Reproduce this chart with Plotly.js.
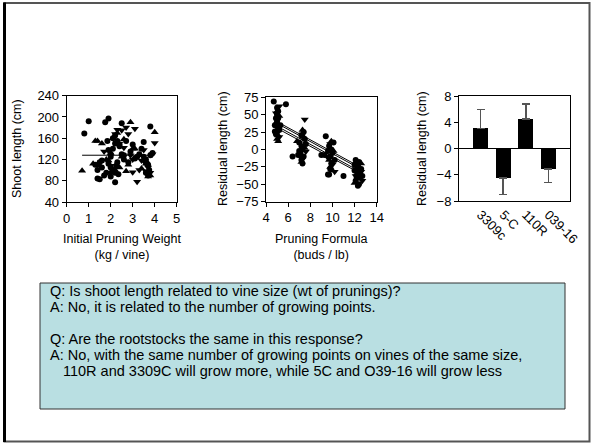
<!DOCTYPE html>
<html>
<head>
<meta charset="utf-8">
<script src="https://cdn.plot.ly/plotly-3.0.1.min.js"></script>
<style>html,body{margin:0;padding:0;background:#fff;}#chart{width:591px;height:444px;}</style>
</head>
<body>
<div id="chart"></div>
<script>
// ---- Panel 1: Shoot length vs initial pruning weight ----
const p1CircleX = [0.8,1.0,1.75,1.9,1.85,2.5,3.8,3.5,2.2,1.4,1.5,1.7,1.3,1.6,1.9,2.0,2.1,2.2,2.3,2.4,2.1,2.0,2.2,2.5,2.6,2.8,3.0,3.2,3.4,3.6,3.7,3.9,1.4,1.6,1.8,2.0,2.3,2.6,2.9,3.1,3.3,3.6,3.7,3.75,2.1,2.2,2.4,2.0,1.9,2.7,3.5,3.8,1.5,2.25,2.35];
const p1CircleY = [169,192,190,197,155,188,182,153,77,84,83,90,110,118,112,125,140,150,155,148,100,105,95,130,120,115,148,125,140,120,110,132,100,105,95,130,115,128,135,122,130,95,90,100,160,165,145,88,138,155,125,128,115,108,92];
const p1UpX = [0.7,2.9,4.0,1.4,1.6,2.0,2.3,2.6,2.8,3.1,3.3,3.6,3.7,1.2,1.5,1.9,2.2,2.5,2.7,3.0,3.4,3.8,2.1,2.4,1.8,3.6,1.3,2.0];
const p1UpY = [99,190,171,155,150,132,170,158,110,140,128,118,88,112,108,118,100,125,98,140,103,90,160,105,120,112,155,96];
const p1DownX = [3.1,2.7,4.0,3.2,2.5,2.8,3.0,3.3,3.5,3.7,3.6,2.3,2.4,2.6,2.9,3.4,3.8,3.9,2.2,2.0,1.7,3.0,3.6];
const p1DownY = [178,180,151,78,175,168,120,100,138,105,112,176,150,142,128,118,95,130,168,108,135,96,98];
const p1FitX = [0.7,3.9];
const p1FitY = [128,128];

// ---- Panel 2: Residual length vs pruning formula ----
const p2CircleX = [4.7,5.8,5.0,5.1,4.9,5.0,4.8,5.1,5.0,4.9,5.2,5.0,5.3,4.8,5.1,6.4,7.0,7.2,7.3,7.1,7.4,7.2,7.3,7.0,7.5,7.4,7.3,6.9,7.6,7.2,9.4,11.0,9.0,9.3,9.6,9.7,9.8,9.9,10.0,9.7,10.1,9.8,10.2,9.6,9.9,12.1,12.2,12.3,12.4,12.0,12.5,12.2,12.3,12.6,12.1,12.4,12.7,12.0];
const p2CircleY = [69,65,60,55,45,40,35,30,25,22,28,50,35,26,45,-10,10,5,0,-5,-10,-15,-20,-2,15,25,-12,-8,8,20,19,-38,-8,-8,-36,-36,-10,-20,-5,5,10,-28,-15,-2,0,-15,-20,-52,-50,-30,-35,-40,-25,-28,-45,-18,-38,-22];
const p2UpX = [5.0,5.1,4.9,5.2,5.0,5.1,7.3,7.4,7.2,7.5,6.8,9.8,10.0,9.7,10.1,9.9,12.3,12.5,12.2,12.6,12.0];
const p2UpY = [15,12,38,48,55,20,28,18,-18,2,12,-25,-30,-15,-2,12,-30,-42,-35,-20,-48];
const p2DownX = [7.5,5.2,4.9,5.0,5.2,7.3,7.1,7.4,7.6,9.8,10.0,9.6,10.2,12.4,12.6,12.2,12.7,12.1];
const p2DownY = [43,62,52,32,18,22,-10,5,-3,8,-22,-12,-32,-22,-32,-28,-45,-38];
const p2FitX = [5.0,12.6];
const p2Fit110R = [40,-26];
const p2Fit3309 = [37.5,-28.5];
const p2Fit039 = [33.5,-32.5];
const p2Fit5C = [30.5,-35];

// ---- Panel 3: Rootstock residuals ----
const rootstocks = ['3309c','5-C','110R','039-16'];
const residMeans = [3.1,-4.5,4.5,-3.1];
const errUp = [2.9,0,2.3,0];
const errDown = [0,2.5,0,2.1];

// ---- Text box ----
const textLines = [
  'Q: Is shoot length related to vine size (wt of prunings)?',
  'A: No, it is related to the number of growing points.',
  'Q: Are the rootstocks the same in this response?',
  'A: No, with the same number of growing points on vines of the same size,',
  '110R and 3309C will grow more, while 5C and O39-16 will grow less'
];

const W = 591, H = 444;
const px = x => x / W;
const py = y => 1 - y / H;
const FONT = 'Liberation Sans, Arial, sans-serif';

function sc(x, y, sym, xa, ya, size) {
  return {x: x, y: y, type: 'scatter', mode: 'markers', xaxis: xa, yaxis: ya,
    marker: {symbol: sym, color: '#000', size: size}, hoverinfo: 'skip', showlegend: false};
}
function ln(x, y, xa, ya) {
  return {x: x, y: y, type: 'scatter', mode: 'lines', xaxis: xa, yaxis: ya,
    line: {color: '#000', width: 1}, hoverinfo: 'skip', showlegend: false};
}

const data = [
  sc(p1CircleX, p1CircleY, 'circle', 'x', 'y', 6),
  sc(p1UpX, p1UpY, 'triangle-up', 'x', 'y', 7),
  sc(p1DownX, p1DownY, 'triangle-down', 'x', 'y', 7),
  ln(p1FitX, p1FitY, 'x', 'y'),
  sc(p2CircleX, p2CircleY, 'circle', 'x2', 'y2', 6),
  sc(p2UpX, p2UpY, 'triangle-up', 'x2', 'y2', 7),
  sc(p2DownX, p2DownY, 'triangle-down', 'x2', 'y2', 7),
  ln(p2FitX, p2Fit110R, 'x2', 'y2'),
  ln(p2FitX, p2Fit3309, 'x2', 'y2'),
  ln(p2FitX, p2Fit039, 'x2', 'y2'),
  ln(p2FitX, p2Fit5C, 'x2', 'y2'),
  {x: rootstocks, y: residMeans, type: 'bar', xaxis: 'x3', yaxis: 'y3', width: 0.66,
   marker: {color: '#000', line: {width: 0}},
   error_y: {type: 'data', symmetric: false, array: errUp, arrayminus: errDown,
     color: '#555', thickness: 1.5, width: 4},
   hoverinfo: 'skip', showlegend: false}
];

const TICK = 13;
const axBase = {showline: true, linecolor: '#000', linewidth: 1, mirror: true,
  ticks: 'outside', ticklen: 4, tickcolor: '#000', showgrid: false, zeroline: false,
  tickfont: {family: FONT, size: TICK, color: '#000'}, fixedrange: true};

const layout = {
  width: W, height: H,
  margin: {l: 0, r: 0, t: 0, b: 0},
  paper_bgcolor: '#fff', plot_bgcolor: 'rgba(0,0,0,0)',
  showlegend: false,
  bargap: 0,
  xaxis: Object.assign({}, axBase, {domain: [px(66.7), px(176.7)], range: [0, 5], dtick: 1, anchor: 'y'}),
  yaxis: Object.assign({}, axBase, {domain: [py(202), py(95.7)], range: [40, 240], dtick: 40, anchor: 'x'}),
  xaxis2: Object.assign({}, axBase, {domain: [px(266), px(376.7)], range: [4, 14], dtick: 2, anchor: 'y2'}),
  yaxis2: Object.assign({}, axBase, {domain: [py(201.7), py(97.3)], range: [-75, 75], dtick: 25, anchor: 'x2'}),
  xaxis3: Object.assign({}, axBase, {domain: [px(459), px(570)], range: [-0.96, 3.96], type: 'category',
    ticks: '', tickangle: 45, anchor: 'y3'}),
  yaxis3: Object.assign({}, axBase, {domain: [py(201), py(96.3)], range: [-8, 8], dtick: 4, anchor: 'x3',
    zeroline: true, zerolinecolor: '#000', zerolinewidth: 1}),
  shapes: [
    {type: 'rect', xref: 'paper', yref: 'paper', x0: px(4.5), x1: px(589.5), y0: py(441.5), y1: py(3),
     line: {color: '#555', width: 2}, fillcolor: 'rgba(0,0,0,0)', layer: 'below'},
    {type: 'line', xref: 'paper', yref: 'paper', x0: px(4.5), x1: px(4.5), y0: py(442), y1: py(2.5),
     line: {color: '#000', width: 3}},
    {type: 'rect', xref: 'paper', yref: 'paper', x0: px(40), x1: px(565), y0: py(409), y1: py(283),
     line: {color: '#333', width: 1}, fillcolor: '#b9dfe2', layer: 'below'}
  ],
  annotations: []
};

function ann(text, x, y, opts) {
  return Object.assign({text: text, xref: 'paper', yref: 'paper', x: px(x), y: py(y),
    showarrow: false, font: {family: FONT, size: 13, color: '#000'},
    xanchor: 'center', yanchor: 'middle'}, opts || {});
}
const YT = {family: FONT, size: 12.5, color: '#000'};
const XT = {family: FONT, size: 12.5, color: '#000'};

// Axis titles
layout.annotations.push(ann('Shoot length (cm)', 17, 149, {textangle: -90, font: YT}));
layout.annotations.push(ann('Initial Pruning Weight<br>(kg / vine)', 121.7, 247, {font: XT}));
layout.annotations.push(ann('Residual length (cm)', 223, 149, {textangle: -90, font: YT}));
layout.annotations.push(ann('Pruning Formula<br>(buds / lb)', 321.3, 247, {font: XT}));
layout.annotations.push(ann('Residual length (cm)', 422, 149, {textangle: -90, font: YT}));

// Text box lines
const lineY = [291, 306.7, 339, 355, 370.7];
const lineX = [48, 48, 48, 48, 61];
textLines.forEach((t, i) => {
  layout.annotations.push(ann(t, lineX[i], lineY[i], {xanchor: 'left', font: {family: FONT, size: 14.5, color: '#000'}}));
});

Plotly.newPlot('chart', data, layout, {staticPlot: true, displayModeBar: false});
</script>
</body>
</html>
